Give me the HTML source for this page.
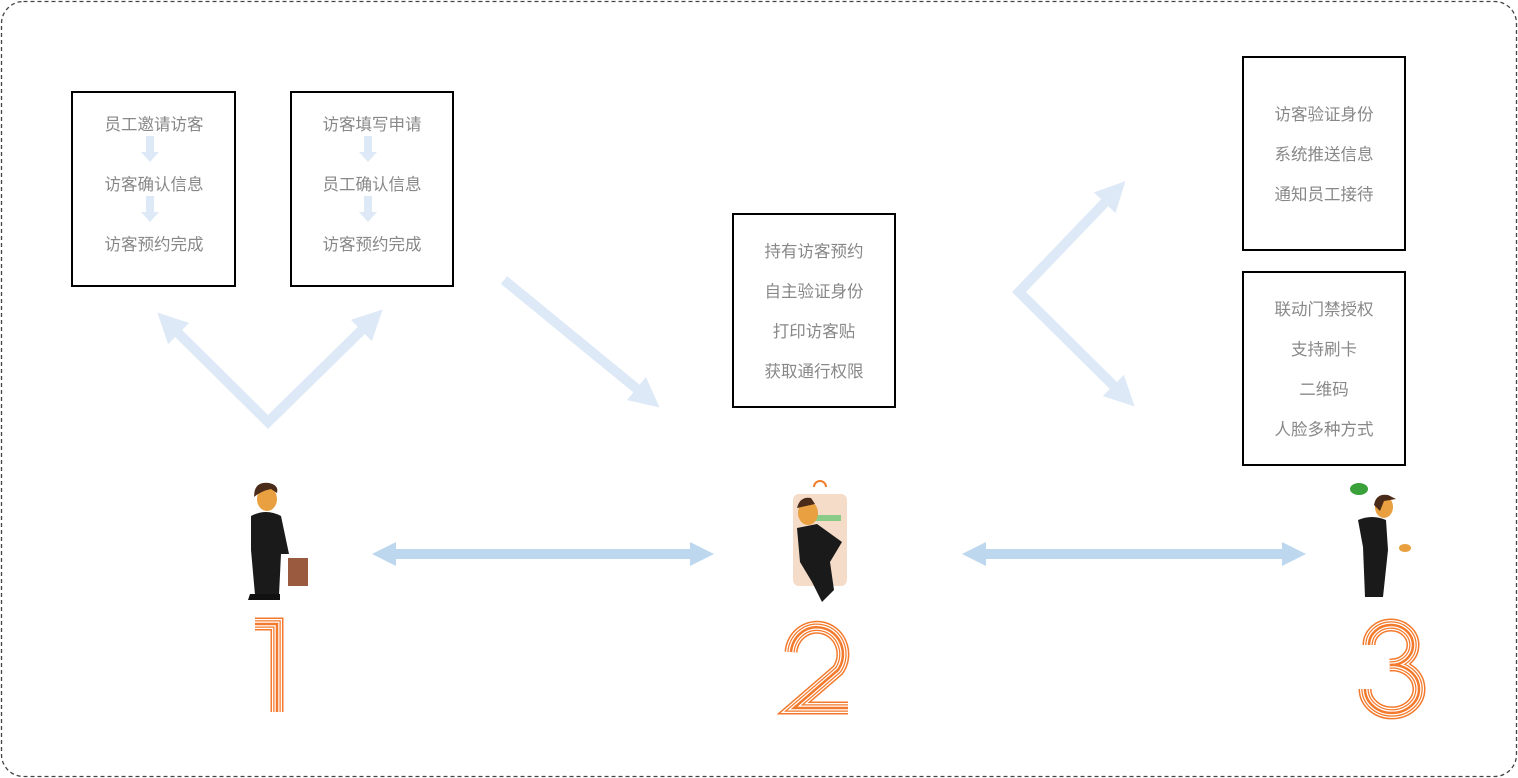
<!DOCTYPE html>
<html><head><meta charset="utf-8"><style>
body{margin:0;background:#fff;}
svg{display:block}
text{font-family:"Liberation Sans","Noto Sans CJK SC",sans-serif;}
</style></head><body>
<svg width="1518" height="778" viewBox="0 0 1518 778" xmlns="http://www.w3.org/2000/svg">
<rect x="1.5" y="1.5" width="1515" height="775" rx="22" fill="#fff" stroke="#444" stroke-dasharray="4,3" stroke-width="1.3"/>
<defs>
<marker id="a" viewBox="0 0 10 10" refX="5" refY="5" markerWidth="3" markerHeight="3" orient="auto-start-reverse"><path d="M0,0 L10,5 L0,10 z" fill="#dde9f6"/></marker>
<marker id="b" viewBox="0 0 10 10" refX="5" refY="5" markerWidth="2.4" markerHeight="3.4" orient="auto-start-reverse"><path d="M0,0 L10,5 L0,10 z" fill="#bdd7ee"/></marker>
<marker id="c" viewBox="0 0 10 10" refX="5" refY="5" markerWidth="3" markerHeight="3" orient="auto"><path d="M0,0 L10,5 L0,10 z" fill="#dde9f6"/></marker>
<g id="d1"><path d="M255,624 H277 V712" stroke-linejoin="miter"/></g>
<g id="d2"><path d="M791,652 A26,27 0 1 1 838,670 L794,708 H848"/></g>
<g id="d3"><path d="M1369,645 A22,20 0 1 1 1390,665 A27,24 0 1 1 1365,689"/></g>
</defs>
<g stroke="#dde9f6" stroke-width="10" fill="none">
<polyline points="168,323 268,422 372,320" marker-start="url(#a)" marker-end="url(#a)"/>
<line x1="504" y1="280" x2="648" y2="398" marker-end="url(#c)"/>
<polyline points="1115,192 1019,292 1124,396" marker-start="url(#a)" marker-end="url(#a)"/>
</g>
<g stroke="#bdd7ee" stroke-width="10">
<line x1="384" y1="554" x2="702" y2="554" marker-start="url(#b)" marker-end="url(#b)"/>
<line x1="974" y1="554" x2="1294" y2="554" marker-start="url(#b)" marker-end="url(#b)"/>
</g>
<g fill="#fff" stroke="#000" stroke-width="2">
<rect x="72" y="92" width="163" height="194"/>
<rect x="291" y="92" width="162" height="194"/>
<rect x="733" y="214" width="162" height="193"/>
<rect x="1243" y="57" width="162" height="193"/>
<rect x="1243" y="272" width="162" height="193"/>
</g>
<g fill="#dde9f6">
<rect x="146" y="136" width="8" height="16"/><path d="M141,152 h18 l-9,10z"/>
<rect x="146" y="196" width="8" height="16"/><path d="M141,212 h18 l-9,10z"/>
<rect x="364" y="136" width="8" height="16"/><path d="M359,152 h18 l-9,10z"/>
<rect x="364" y="196" width="8" height="16"/><path d="M359,212 h18 l-9,10z"/>
</g>
<g fill="#888" font-size="16.5" text-anchor="middle">
<text x="154" y="130">员工邀请访客</text><text x="154" y="190">访客确认信息</text><text x="154" y="250">访客预约完成</text>
<text x="372" y="130">访客填写申请</text><text x="372" y="190">员工确认信息</text><text x="372" y="250">访客预约完成</text>
<text x="814" y="257">持有访客预约</text><text x="814" y="297">自主验证身份</text><text x="814" y="337">打印访客贴</text><text x="814" y="377">获取通行权限</text>
<text x="1324" y="120">访客验证身份</text><text x="1324" y="160">系统推送信息</text><text x="1324" y="200">通知员工接待</text>
<text x="1324" y="315">联动门禁授权</text><text x="1324" y="355">支持刷卡</text><text x="1324" y="395">二维码</text><text x="1324" y="435">人脸多种方式</text>
</g>
<g>
<ellipse cx="267" cy="499" rx="10" ry="12" fill="#e8a040"/><path d="M254,497 q0,-16 15,-14 q10,2 8,10 l-6,-4 q-10,2 -17,8z" fill="#4a2a18"/>
<path d="M251,516 q15,-8 30,0 l8,38 l-8,0 l-2,41 h-24 l-4,-45z" fill="#1a1a1a"/>
<rect x="288" y="558" width="20" height="28" fill="#9a5a40"/>
<path d="M250,594 h30 v6 h-32z" fill="#111"/>
</g>
<g>
<rect x="793" y="494" width="54" height="92" rx="6" fill="#f5dcc8"/>
<rect x="815" y="515" width="26" height="6" fill="#8c8"/>
<ellipse cx="808" cy="513" rx="10" ry="12" fill="#e8a040"/><path d="M797,508 q3,-12 14,-10 l4,6z" fill="#4a2a18"/>
<path d="M797,528 l20,-4 l25,18 l-12,20 l4,28 l-12,12 l-10,-20 l-12,-20z" fill="#1a1a1a"/>
<path d="M814,487 a6,6 0 0 1 12,0" fill="none" stroke="#f08030" stroke-width="2"/>
</g>
<g>
<ellipse cx="1359" cy="489" rx="9" ry="6" fill="#3aa03a"/>
<ellipse cx="1384" cy="507" rx="9" ry="11" fill="#e8a040"/><path d="M1374,505 q2,-12 14,-10 l8,4 l-12,2 l-4,10z" fill="#4a2a18"/>
<path d="M1358,520 q14,-6 28,0 l2,30 l-5,47 h-18 l-2,-50 z" fill="#1a1a1a"/>
<ellipse cx="1405" cy="548" rx="6" ry="4" fill="#e8a040"/>
</g>
<g fill="none" stroke-linecap="butt">
<g stroke="#f37a2c" stroke-width="13"><use href="#d1"/><use href="#d2"/><use href="#d3"/></g>
<g stroke="#fff" stroke-width="10"><use href="#d1"/><use href="#d2"/><use href="#d3"/></g>
<g stroke="#f37a2c" stroke-width="7.5"><use href="#d1"/><use href="#d2"/><use href="#d3"/></g>
<g stroke="#fff" stroke-width="5"><use href="#d1"/><use href="#d2"/><use href="#d3"/></g>
<g stroke="#f37a2c" stroke-width="2.5"><use href="#d1"/><use href="#d2"/><use href="#d3"/></g>
</g>
</svg>
</body></html>
